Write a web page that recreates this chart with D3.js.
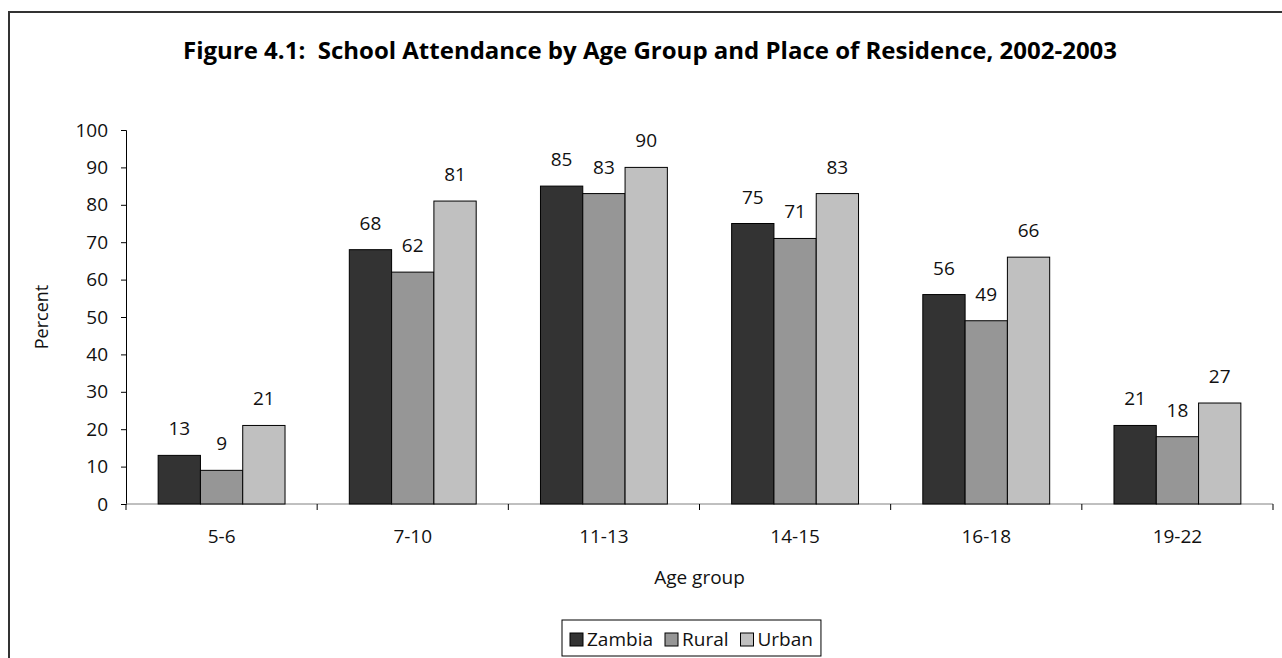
<!DOCTYPE html>
<html>
<head>
<meta charset="utf-8">
<script src="https://cdn.jsdelivr.net/npm/d3@7"></script>
<style>
  body { margin: 0; background: #fff; }
  svg { display: block; font-family: "Open Sans", sans-serif; }
</style>
</head>
<body>
<svg id="chart" width="1282" height="658"></svg>
<script>
// chart data
var ageGroups = ["5-6", "7-10", "11-13", "14-15", "16-18", "19-22"];
var seriesNames = ["Zambia", "Rural", "Urban"];
var zambia = [13, 68, 85, 75, 56, 21];
var rural = [9, 62, 83, 71, 49, 18];
var urban = [21, 81, 90, 83, 66, 27];
var yTicks = [0, 10, 20, 30, 40, 50, 60, 70, 80, 90, 100];
var colors = ["#333333", "#969696", "#c0c0c0"];

var seriesValues = [zambia, rural, urban];

var margin = {top: 130, left: 126},
    width = 1147,
    height = 374;
var fs = "19px";

var svg = d3.select("#chart");

// outer frame (left + top only)
svg.append("line").attr("x1", 9).attr("x2", 9).attr("y1", 12).attr("y2", 658)
  .attr("stroke", "#333").attr("stroke-width", 2);
svg.append("line").attr("x1", 8).attr("x2", 1282).attr("y1", 12).attr("y2", 12)
  .attr("stroke", "#333").attr("stroke-width", 2);

// title
svg.append("text")
  .attr("x", 650).attr("y", 59)
  .attr("text-anchor", "middle")
  .style("white-space", "pre")
  .attr("font-size", "24px")
  .attr("font-weight", "bold")
  .attr("fill", "#000")
  .text("Figure 4.1:  School Attendance by Age Group and Place of Residence, 2002-2003");

var g = svg.append("g")
  .attr("transform", "translate(" + margin.left + "," + margin.top + ")");

var x = d3.scaleBand().domain(ageGroups).range([0, width]).padding(0);
var xSub = d3.scaleBand().domain(seriesNames).range([0, x.bandwidth()])
  .paddingInner(0).paddingOuter(0.76);
var y = d3.scaleLinear().domain([0, 100]).range([height, 0]);

// y axis
var yAxis = g.append("g")
  .call(d3.axisLeft(y).tickValues(yTicks).tickSize(5).tickPadding(13));
yAxis.selectAll("text").attr("font-size", fs).attr("fill", "#111")
  .attr("font-family", "Open Sans, sans-serif");
yAxis.selectAll("line").attr("stroke", "#000");
yAxis.select(".domain").attr("stroke", "#000");

// x axis line (gray) and boundary ticks
g.append("line").attr("x1", 0).attr("x2", width)
  .attr("y1", height).attr("y2", height)
  .attr("stroke", "#808080").attr("stroke-width", 1);

var boundaries = ageGroups.map(function(d) { return x(d); }).concat([width]);
g.selectAll(".btick").data(boundaries).enter().append("line")
  .attr("class", "btick")
  .attr("x1", function(d) { return d; }).attr("x2", function(d) { return d; })
  .attr("y1", height).attr("y2", height + 6)
  .attr("stroke", "#000");

// x labels
var xAxis = g.append("g")
  .attr("transform", "translate(0," + height + ")")
  .call(d3.axisBottom(x).tickSize(0).tickPadding(26));
xAxis.select(".domain").remove();
xAxis.selectAll("text").attr("font-size", fs).attr("fill", "#111")
  .attr("font-family", "Open Sans, sans-serif");

// bars
var groups = g.selectAll(".grp").data(ageGroups).enter().append("g")
  .attr("class", "grp")
  .attr("transform", function(d) { return "translate(" + x(d) + ",0)"; });

seriesNames.forEach(function(s, si) {
  groups.append("rect")
    .attr("x", xSub(s))
    .attr("y", function(d, i) { return y(seriesValues[si][i]); })
    .attr("width", xSub.bandwidth())
    .attr("height", function(d, i) { return height - y(seriesValues[si][i]); })
    .attr("fill", colors[si])
    .attr("stroke", "#000")
    .attr("stroke-width", 1);

  groups.append("text")
    .attr("x", xSub(s) + xSub.bandwidth() / 2)
    .attr("y", function(d, i) { return y(seriesValues[si][i]) - 20; })
    .attr("text-anchor", "middle")
    .attr("font-size", fs)
    .attr("fill", "#111")
    .text(function(d, i) { return seriesValues[si][i]; });
});

// axis titles
svg.append("text")
  .attr("transform", "translate(48," + (margin.top + height / 2) + ") rotate(-90)")
  .attr("text-anchor", "middle")
  .attr("font-size", "18px")
  .attr("fill", "#111")
  .text("Percent");

svg.append("text")
  .attr("x", margin.left + width / 2).attr("y", 584)
  .attr("text-anchor", "middle")
  .attr("font-size", fs)
  .attr("fill", "#111")
  .text("Age group");

// legend
var legend = svg.append("g");
var lx = 570;
seriesNames.forEach(function(s, i) {
  var it = legend.append("g").attr("transform", "translate(" + lx + ",0)");
  it.append("rect").attr("x", 0).attr("y", 633).attr("width", 13).attr("height", 13)
    .attr("fill", colors[i]).attr("stroke", "#000");
  var t = it.append("text").attr("x", 17).attr("y", 646)
    .attr("font-size", fs).attr("fill", "#111").text(s);
  lx += 17 + t.node().getComputedTextLength() + 12;
});
legend.insert("rect", ":first-child")
  .attr("x", 562).attr("y", 620)
  .attr("width", lx - 562 - 4).attr("height", 36)
  .attr("fill", "#fff").attr("stroke", "#000");
</script>
</body>
</html>
